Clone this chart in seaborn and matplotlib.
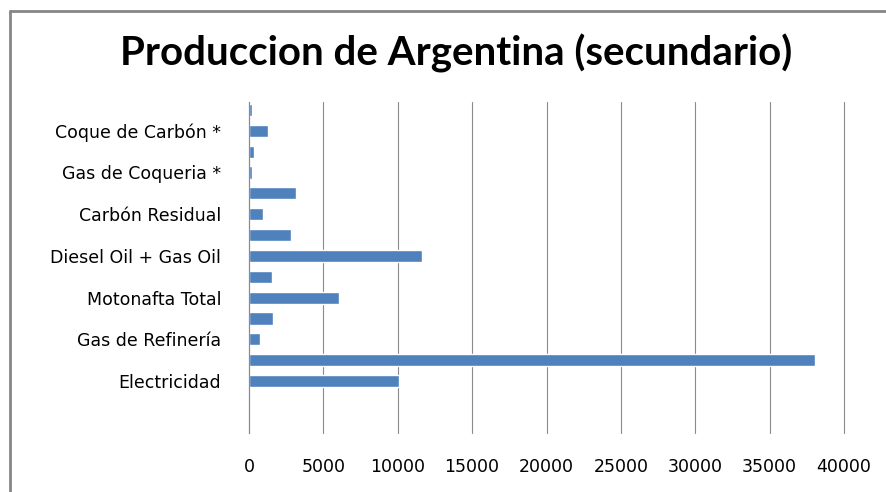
import matplotlib
matplotlib.use("Agg")
import matplotlib.pyplot as plt
import seaborn as sns
import pandas as pd
from matplotlib.lines import Line2D

# Data (top to bottom as drawn)
categories = [
    "Carbón de Leña", "Coque de Carbón *", "Gas de Alto Horno", "Gas de Coqueria *",
    "No Energético", "Carbón Residual", "Fuel Oil", "Diesel Oil + Gas Oil",
    "Kerosene y Aerokerosene", "Motonafta Total", "Gas Licuado", "Gas de Refinería",
    "Gas Distribuido por Redes", "Electricidad",
]
values = [230, 1300, 316, 230, 3140, 920, 2800, 11610, 1530, 6080, 1590, 720, 38080, 10060]
# only every other label is shown in the chart
tick_labels = [
    "", "Coque de Carbón *", "", "Gas de Coqueria *", "", "Carbón Residual", "",
    "Diesel Oil + Gas Oil", "", "Motonafta Total", "", "Gas de Refinería", "", "Electricidad",
]
x_ticks = [0, 5000, 10000, 15000, 20000, 25000, 30000, 35000, 40000]
title = "Produccion de Argentina (secundario)"

df = pd.DataFrame({"categoria": categories, "valor": values})

sns.set_theme(style="white")
plt.rcParams["font.family"] = ["DejaVu Sans"]

fig = plt.figure(figsize=(8.86, 4.92), dpi=100)
ax = fig.add_axes([249 / 886, 1 - 433 / 492, (844 - 249) / 886, (433 - 102) / 492])

sns.barplot(data=df, x="valor", y="categoria", order=categories, color="#4F81BD",
            width=0.58, saturation=1, ax=ax, zorder=3)

ax.set_xlim(0, 40000)
ax.set_ylim(15.49, -0.38)
ax.set_xticks(x_ticks)
ax.set_xticklabels([str(t) for t in x_ticks], fontsize=12.5, color="#000000")
ax.set_yticks(range(len(categories)))
ax.set_yticklabels(tick_labels, fontsize=12.5, color="#000000")
ax.tick_params(axis="x", length=0, pad=18)
ax.tick_params(axis="y", length=0, pad=20)
ax.set_xlabel("")
ax.set_ylabel("")

ax.grid(axis="x", color="#8a8a8a", linewidth=0.8, zorder=0)
for gl in ax.get_xgridlines():
    gl.set_clip_on(False)
ax.set_axisbelow(True)
for side in ["top", "right", "bottom"]:
    ax.spines[side].set_visible(False)
ax.spines["left"].set_color("#8a8a8a")
ax.spines["left"].set_linewidth(0.8)
ax.spines["left"].set_zorder(4)

fig.text(456 / 886, 1 - 53 / 492, title, ha="center", va="center",
         fontsize=29, fontweight="bold", color="#000000", family=["Lato", "DejaVu Sans"])

# chart frame (left and top edges visible)
fig.add_artist(Line2D([9.5 / 886, 9.5 / 886], [0, 1 - 11 / 492], transform=fig.transFigure,
                      color="#868686", linewidth=2))
fig.add_artist(Line2D([9.5 / 886, 1], [1 - 11 / 492, 1 - 11 / 492], transform=fig.transFigure,
                      color="#868686", linewidth=2))

fig.savefig("out.png", dpi=100, facecolor="white")
